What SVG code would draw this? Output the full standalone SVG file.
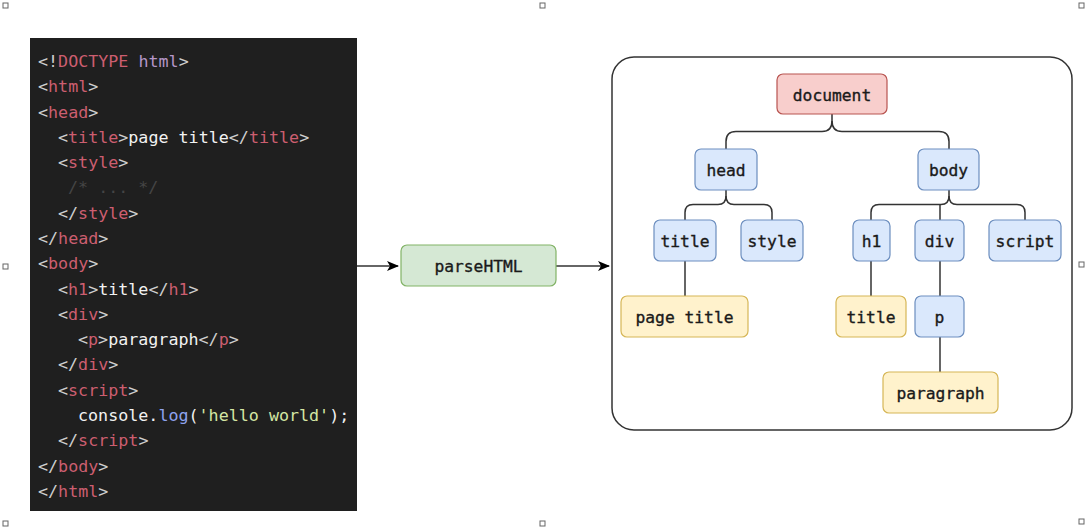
<svg xmlns="http://www.w3.org/2000/svg" width="1086" height="529" viewBox="0 0 1086 529">
<style>
.code{font-family:"DejaVu Sans Mono","Liberation Mono",monospace;font-size:16.7px;fill:#cfcfcf}
.t{fill:#cc5e70}
.w{fill:#f2f2f2}
.pu{fill:#b596c8}
.cm{fill:#454545}
.fn{fill:#8fa3ee}
.st{fill:#d4e6a4}
.lbl{font-family:"DejaVu Sans Mono","Liberation Mono",monospace;font-size:16.3px;fill:#1a1a1a;stroke:#1a1a1a;stroke-width:0.35;text-anchor:middle;dominant-baseline:central}
.blue{fill:#dae8fc;stroke:#6c8ebf;stroke-width:1.2}
.yel{fill:#fff2cc;stroke:#d6b656;stroke-width:1.2}
.red{fill:#f8cecc;stroke:#b85450;stroke-width:1.2}
.grn{fill:#d5e8d4;stroke:#82b366;stroke-width:1.2}
.edge{fill:none;stroke:#333;stroke-width:1.5}
.h{fill:#fff;stroke:#666;stroke-width:1}
</style>
<defs>
<marker id="arr" viewBox="0 0 12 10" refX="11" refY="5" markerWidth="12" markerHeight="10" markerUnits="userSpaceOnUse" orient="auto">
<path d="M0,0 L12,5 L0,10 L3,5 z" fill="#000"/>
</marker>
</defs>
<rect width="1086" height="529" fill="#fff"/>

<g id="handles">
<rect class="h" x="3" y="3" width="5" height="5"/>
<rect class="h" x="540" y="3" width="5" height="5"/>
<rect class="h" x="1079" y="3" width="5" height="5"/>
<rect class="h" x="3" y="264" width="5" height="5"/>
<rect class="h" x="1079" y="262" width="5" height="5"/>
<rect class="h" x="3" y="521" width="5" height="5"/>
<rect class="h" x="540" y="521" width="5" height="5"/>
<rect class="h" x="1079" y="519" width="5" height="5"/>
</g>

<g id="code-panel">
<rect x="30" y="38" width="327" height="473" fill="#1f1f1f"/>
<text class="code" x="38" y="67">&lt;!<tspan class="t">DOCTYPE</tspan> <tspan class="pu">html</tspan>&gt;</text>
<text class="code" x="38" y="92.3">&lt;<tspan class="t">html</tspan>&gt;</text>
<text class="code" x="38" y="117.6">&lt;<tspan class="t">head</tspan>&gt;</text>
<text class="code" x="58" y="142.8">&lt;<tspan class="t">title</tspan>&gt;<tspan class="w">page title</tspan>&lt;/<tspan class="t">title</tspan>&gt;</text>
<text class="code" x="58" y="168.1">&lt;<tspan class="t">style</tspan>&gt;</text>
<text class="code cm" x="68" y="193.4">/* ... */</text>
<text class="code" x="58" y="218.7">&lt;/<tspan class="t">style</tspan>&gt;</text>
<text class="code" x="38" y="244">&lt;/<tspan class="t">head</tspan>&gt;</text>
<text class="code" x="38" y="269.2">&lt;<tspan class="t">body</tspan>&gt;</text>
<text class="code" x="58" y="294.5">&lt;<tspan class="t">h1</tspan>&gt;<tspan class="w">title</tspan>&lt;/<tspan class="t">h1</tspan>&gt;</text>
<text class="code" x="58" y="319.8">&lt;<tspan class="t">div</tspan>&gt;</text>
<text class="code" x="78" y="345.1">&lt;<tspan class="t">p</tspan>&gt;<tspan class="w">paragraph</tspan>&lt;/<tspan class="t">p</tspan>&gt;</text>
<text class="code" x="58" y="370.4">&lt;/<tspan class="t">div</tspan>&gt;</text>
<text class="code" x="58" y="395.6">&lt;<tspan class="t">script</tspan>&gt;</text>
<text class="code w" x="78" y="420.9">console.<tspan class="fn">log</tspan>(<tspan class="st">'hello world'</tspan>);</text>
<text class="code" x="58" y="446.2">&lt;/<tspan class="t">script</tspan>&gt;</text>
<text class="code" x="38" y="471.5">&lt;/<tspan class="t">body</tspan>&gt;</text>
<text class="code" x="38" y="496.8">&lt;/<tspan class="t">html</tspan>&gt;</text>
</g>

<g id="tree-frame">
<rect x="612" y="57" width="460" height="373" rx="22" fill="none" stroke="#333" stroke-width="1.5"/>
</g>

<g id="connectors">
<line class="edge" x1="357" y1="266" x2="398" y2="266" marker-end="url(#arr)"/>
<line class="edge" x1="556" y1="266" x2="609" y2="266" marker-end="url(#arr)"/>
<path class="edge" d="M832,114 V121 Q832,131.5 822,131.5 H736 Q726,131.5 726,141.5 V149"/>
<path class="edge" d="M832,121 Q832,131.5 842,131.5 H939 Q949,131.5 949,141.5 V149"/>
<path class="edge" d="M726,190 V196 Q726,204.5 718,204.5 H693 Q685,204.5 685,212.5 V220"/>
<path class="edge" d="M726,196 Q726,204.5 734,204.5 H764 Q772,204.5 772,212.5 V220"/>
<path class="edge" d="M949,190 V196 Q949,204.5 941,204.5 H879 Q871,204.5 871,212.5 V220"/>
<path class="edge" d="M949,196 Q949,204.5 957,204.5 H1017 Q1025,204.5 1025,212.5 V220"/>
<line class="edge" x1="940" y1="204.5" x2="940" y2="220"/>
<line class="edge" x1="685" y1="261" x2="685" y2="296"/>
<line class="edge" x1="871" y1="261" x2="871" y2="296"/>
<line class="edge" x1="940" y1="261" x2="940" y2="296"/>
<line class="edge" x1="940" y1="337" x2="940" y2="372"/>
</g>

<g id="parseHTML">
<rect class="grn" x="401" y="245" width="155" height="41" rx="6"/>
<text class="lbl" x="478.5" y="266">parseHTML</text>
</g>
<g id="document">
<rect class="red" x="777" y="74" width="110" height="40" rx="6"/>
<text class="lbl" x="832" y="95">document</text>
</g>
<g id="head">
<rect class="blue" x="695" y="149" width="62" height="41" rx="6"/>
<text class="lbl" x="726" y="170.5">head</text>
</g>
<g id="body">
<rect class="blue" x="918" y="149" width="61" height="41" rx="6"/>
<text class="lbl" x="948.5" y="170.5">body</text>
</g>
<g id="title">
<rect class="blue" x="654" y="220" width="62" height="41" rx="6"/>
<text class="lbl" x="685" y="241.5">title</text>
</g>
<g id="style">
<rect class="blue" x="741" y="220" width="62" height="41" rx="6"/>
<text class="lbl" x="772" y="241.5">style</text>
</g>
<g id="h1">
<rect class="blue" x="853" y="220" width="37" height="41" rx="6"/>
<text class="lbl" x="871.5" y="241.5">h1</text>
</g>
<g id="div">
<rect class="blue" x="915" y="220" width="49" height="41" rx="6"/>
<text class="lbl" x="939.5" y="241.5">div</text>
</g>
<g id="script">
<rect class="blue" x="989" y="220" width="72" height="41" rx="6"/>
<text class="lbl" x="1025" y="241.5">script</text>
</g>
<g id="page-title">
<rect class="yel" x="621" y="296" width="127" height="41" rx="6"/>
<text class="lbl" x="684.5" y="317.5">page title</text>
</g>
<g id="title-text">
<rect class="yel" x="836" y="296" width="70" height="41" rx="6"/>
<text class="lbl" x="871" y="317.5">title</text>
</g>
<g id="p">
<rect class="blue" x="915" y="296" width="49" height="41" rx="6"/>
<text class="lbl" x="939.5" y="317.5">p</text>
</g>
<g id="paragraph">
<rect class="yel" x="883" y="372" width="115" height="41" rx="6"/>
<text class="lbl" x="940.5" y="393.5">paragraph</text>
</g>
</svg>
